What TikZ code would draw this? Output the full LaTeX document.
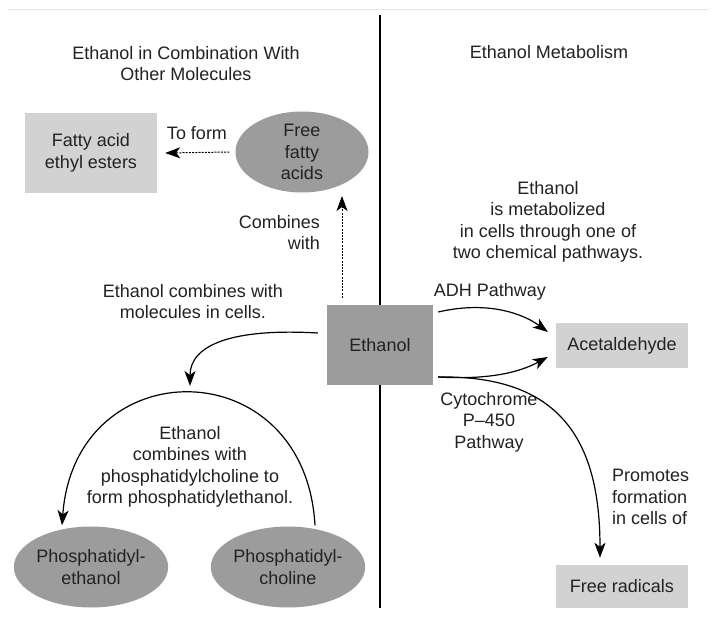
\documentclass[tikz,border=0pt]{standalone}
\usepackage{fontspec}
\setmainfont{Liberation Sans}
\usetikzlibrary{arrows.meta,shapes.geometric}
\definecolor{lightbox}{HTML}{D2D2D2}
\definecolor{darkbox}{HTML}{9C9C9C}
\definecolor{ink}{HTML}{222222}
\begin{document}
\begin{tikzpicture}[x=1pt,y=-1pt,
  every node/.style={font=\fontsize{18}{21.5}\selectfont, text=ink, inner sep=0pt, align=center},
  lbox/.style={rectangle, fill=lightbox, minimum width=132pt},
  dbox/.style={rectangle, fill=darkbox, minimum width=106pt, minimum height=80pt},
  dell/.style={ellipse, fill=darkbox, minimum width=133pt, minimum height=81pt},
  arr/.style={draw=black, line width=1.2pt, -{Stealth[length=15pt,width=11pt,inset=4pt]}},
  darr/.style={arr, dash pattern=on 2pt off 1.2pt, line width=1pt},
  lbl/.style={}]
\useasboundingbox (0,0) rectangle (716,635);
\fill[white] (0,0) rectangle (716,635);
\draw[gray!20, line width=0.6pt] (8,9) -- (708,9);
% divider
\draw[black, line width=1.3pt] (380,15) -- (380,608);

% nodes
\node[lbox, minimum height=80pt] (faee) at (91,153) {Fatty acid\\ethyl esters};
\node[dell] (ffa) at (302,152) {Free\\fatty\\acids};
\node[dbox] (eth) at (380,345) {Ethanol};
\node[lbox, minimum height=45pt] (acet) at (622,345.5) {Acetaldehyde};
\node[lbox, minimum height=43pt] (frad) at (622,586.5) {Free radicals};
\node[dell] (phe) at (91,567) {Phosphatidyl-\\ethanol};
\node[dell] (phc) at (288,567) {Phosphatidyl-\\choline};

% labels
\node[lbl] (t1) at (186,63.5) {Ethanol in Combination With\\Other Molecules};
\node[lbl] (t2) at (549,52) {Ethanol Metabolism};
\node[lbl] (toform) at (197,133) {To form};
\node[lbl, align=right, anchor=east] (comb) at (320,232.5) {Combines\\with};
\node[lbl] (ecw) at (193,301.5) {Ethanol combines with\\molecules in cells.};
\node[lbl] (meta) at (548,222) {Ethanol\\is metabolized\\in cells through one of\\two chemical pathways.};
\node[lbl] (adh) at (490,292) {ADH Pathway};
\node[lbl] (cyt) at (489,422) {Cytochrome\\P{\textendash}450\\Pathway};
\node[lbl] (pcl) at (190,467) {Ethanol\\combines with\\phosphatidylcholine to\\form phosphatidylethanol.};
\node[lbl, align=left, anchor=west] (prom) at (612,497) {Promotes\\formation\\in cells of};

% connectors
\coordinate (combtip) at (342,196);
\coordinate (lefttip) at (190,386);
\draw[darr] ([xshift=-6pt]ffa.west) -- ([xshift=8pt]faee.east);
\draw[darr] ([yshift=7pt]eth.north -| combtip) -- (combtip);
\draw[arr] ([xshift=-9pt,yshift=12pt]eth.west) .. controls (232,328) and (190,345) .. (lefttip);
\draw[arr] ([xshift=27pt,yshift=1pt]phc.north) .. controls (305,349) and (75,349) .. ([xshift=-29pt,yshift=1pt]phe.north);
\draw[arr] ([xshift=5pt,yshift=33pt]eth.east) .. controls (490,300) and (525,315) .. ([xshift=-8pt,yshift=13.5pt]acet.west);
\draw[arr] ([xshift=5pt,yshift=-32pt]eth.east) .. controls (490,380) and (520,372) .. ([xshift=-8pt,yshift=-11.5pt]acet.west);
\draw[arr] ([xshift=5pt,yshift=-32pt]eth.east) .. controls (560,375) and (600,440) .. ([xshift=-22pt,yshift=7pt]frad.north);
\end{tikzpicture}
\end{document}
